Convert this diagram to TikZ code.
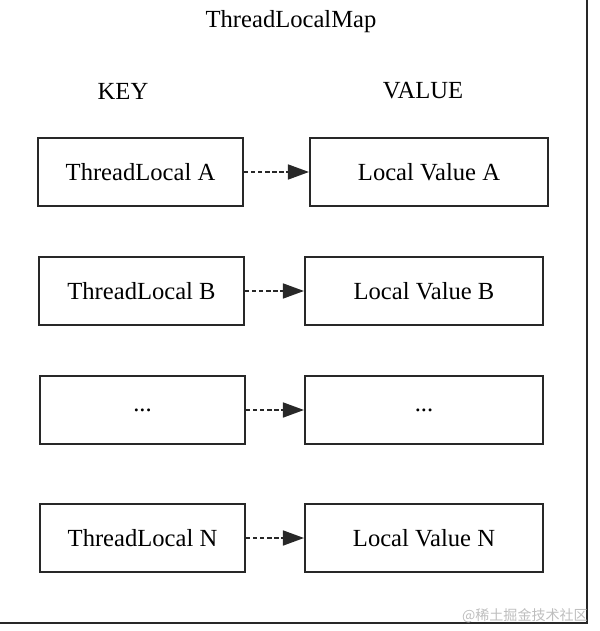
\documentclass[tikz,border=0pt]{standalone}
\usepackage{fontspec}
\setmainfont{Liberation Serif}
\newfontfamily\cjk{Noto Sans CJK SC}
\usepackage{tikz}
\usetikzlibrary{arrows.meta, positioning}
\definecolor{mydark}{RGB}{40,40,40}
\definecolor{mymark}{RGB}{190,190,190}
\tikzset{
  keybox/.style={rectangle, draw=mydark, fill=white,
    minimum width=4.1cm, minimum height=1.36cm,
    font=\fontsize{14}{17}\selectfont, line width=1.2pt},
  valbox/.style={rectangle, draw=mydark, fill=white,
    minimum width=4.76cm, minimum height=1.36cm,
    font=\fontsize{14}{17}\selectfont, line width=1.2pt},
  head/.style={font=\fontsize{14}{17}\selectfont},
  arrow/.style={-{Triangle[length=0.42cm, width=0.3cm]},
    dash pattern=on 2.5pt off 1.5pt, line width=0.9pt, color=mydark}
}

\begin{document}
\begin{tikzpicture}[x=0.02cm, y=-0.02cm]
  \useasboundingbox (0,0) rectangle (599,631);
  \clip (0,0) rectangle (599,631);
  % outer frame
  \draw[line width=1.2pt, mydark] (-5,-5) rectangle (587,623);
  \node[head] (map) at (291,22) {ThreadLocalMap};
  \node[head] (key) at (123,91) {KEY};
  \node[head] (val) at (423,91) {VALUE};

  \node[keybox] (ka) at (140.5,172) {ThreadLocal A};
  \node[valbox] (va) at (429,172) {Local Value A};
  \node[keybox] (kb) at (141.5,291) {ThreadLocal B};
  \node[valbox] (vb) at (424,291) {Local Value B};
  \node[keybox] (kc) at (142.5,410) {...};
  \node[valbox] (vc) at (424,410) {...};
  \node[keybox] (kn) at (142.5,538) {ThreadLocal N};
  \node[valbox] (vn) at (424,538) {Local Value N};

  \foreach \k/\v in {ka/va, kb/vb, kc/vc, kn/vn}
    \draw[arrow] (\k) -- (\v);

  \node[anchor=east, text=mymark, font=\cjk\fontsize{8}{10}\selectfont] (mark) at (594,616) {@稀土掘金技术社区};
\end{tikzpicture}
\end{document}
